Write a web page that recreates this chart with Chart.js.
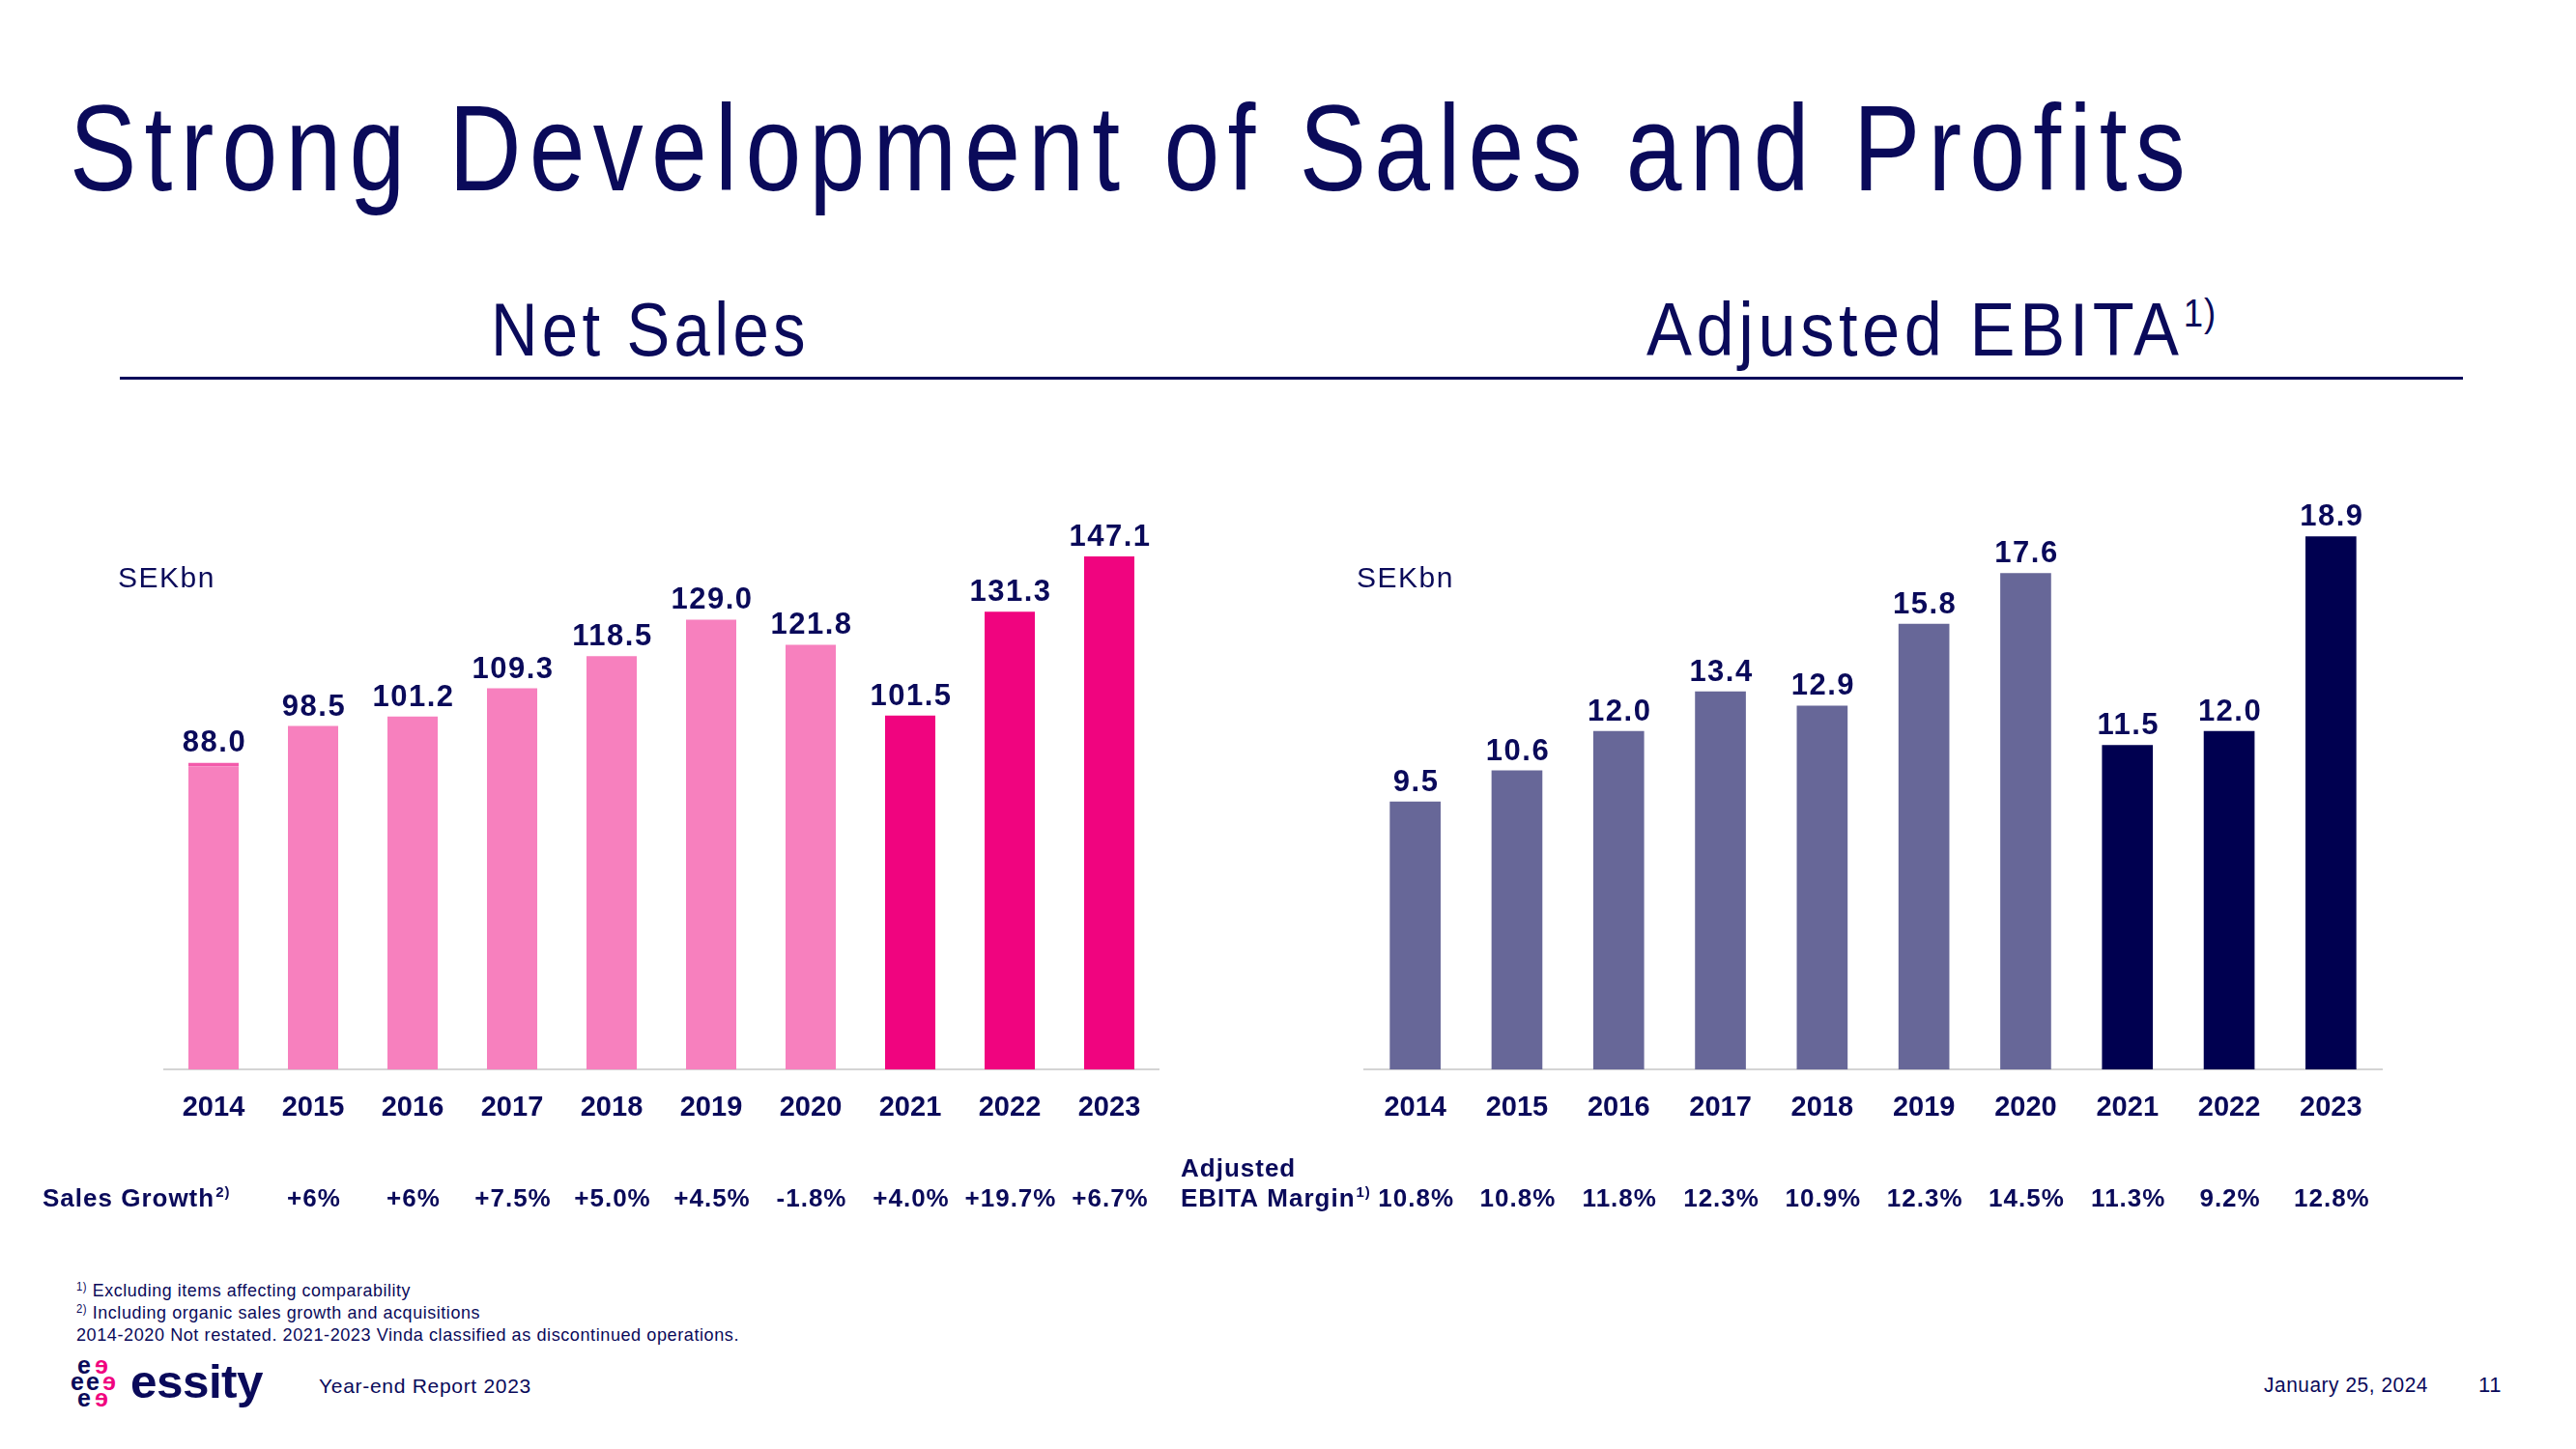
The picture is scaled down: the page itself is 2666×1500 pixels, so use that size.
<!DOCTYPE html>
<html>
<head>
<meta charset="utf-8">
<script src="https://cdn.jsdelivr.net/npm/chart.js@4.4.0/dist/chart.umd.min.js"></script>
<style>
body{margin:0;background:#fff;width:2666px;height:1500px;overflow:hidden;position:relative;font-family:"Liberation Sans",Arial,sans-serif;color:#0A0A5A}
.t{position:absolute;white-space:nowrap;line-height:1;transform-origin:0 0}
canvas{position:absolute}
.e{position:absolute;font-weight:bold;font-size:25px;line-height:1;color:#0A0A5A}
.e.p{color:#F0047F;transform:scaleX(-1)}
</style>
</head>
<body>
<div class="t" data-w="2198" style="left:72px;top:91px;font-size:126px;letter-spacing:10px;font-family:'Liberation Sans Narrow','Arial Narrow','Liberation Sans',sans-serif">Strong Development of Sales and Profits</div>
<div class="t" data-w="330" style="left:508px;top:303px;font-size:77px;letter-spacing:5px;font-family:'Liberation Sans Narrow','Arial Narrow','Liberation Sans',sans-serif">Net Sales</div>
<div class="t" data-w="590" style="left:1704px;top:303px;font-size:77px;letter-spacing:5px;font-family:'Liberation Sans Narrow','Arial Narrow','Liberation Sans',sans-serif">Adjusted EBITA<span style="font-size:40px;position:relative;top:-30px;letter-spacing:1px">1)</span></div>
<div style="position:absolute;left:124px;top:390px;width:2425px;height:3px;background:#0A0A5A"></div>

<canvas id="salesChart" width="1220" height="820" style="left:0;top:480px"></canvas>
<canvas id="ebitaChart" width="1466" height="820" style="left:1200px;top:480px"></canvas>

<div class="t" data-w="346" style="left:79px;top:1326px;font-size:19px;letter-spacing:0.6px"><span style="font-size:12px;position:relative;top:-6px">1)</span> Excluding items affecting comparability</div>
<div class="t" data-w="418" style="left:79px;top:1349px;font-size:19px;letter-spacing:0.6px"><span style="font-size:12px;position:relative;top:-6px">2)</span> Including organic sales growth and acquisitions</div>
<div class="t" data-w="686" style="left:79px;top:1372px;font-size:19px;letter-spacing:0.6px">2014-2020 Not restated. 2021-2023 Vinda classified as discontinued operations.</div>

<span class="e" style="left:80px;top:1401px">e</span><span class="e p" style="left:98px;top:1401px">e</span>
<span class="e" style="left:73px;top:1418px">e</span><span class="e" style="left:89px;top:1418px">e</span><span class="e p" style="left:106px;top:1418px">e</span>
<span class="e" style="left:80px;top:1435px">e</span><span class="e p" style="left:98px;top:1435px">e</span>
<div class="t" data-w="137" style="left:135px;top:1406px;font-size:49px;font-weight:bold;letter-spacing:-0.5px">essity</div>
<div class="t" data-w="220" style="left:330px;top:1424px;font-size:21px;letter-spacing:0.7px">Year-end Report 2023</div>
<div class="t" data-w="170" style="left:2343px;top:1423px;font-size:22px;letter-spacing:0.6px">January 25, 2024</div>
<div class="t" style="left:2565px;top:1423px;font-size:22px;letter-spacing:0.6px">11</div>

<script>
// data
var years = ['2014', '2015', '2016', '2017', '2018', '2019', '2020', '2021', '2022', '2023'];
var netSales = [88.0, 98.5, 101.2, 109.3, 118.5, 129.0, 121.8, 101.5, 131.3, 147.1];
var salesGrowth = [null, '+6%', '+6%', '+7.5%', '+5.0%', '+4.5%', '-1.8%', '+4.0%', '+19.7%', '+6.7%'];
var adjEbita = [9.5, 10.6, 12.0, 13.4, 12.9, 15.8, 17.6, 11.5, 12.0, 18.9];
var ebitaMargin = ['10.8%', '10.8%', '11.8%', '12.3%', '10.9%', '12.3%', '14.5%', '11.3%', '9.2%', '12.8%'];

var NAVY = '#0A0A5A';
var FONT = '"Liberation Sans", Arial, sans-serif';

// stretch html texts to the widths of the slide
document.querySelectorAll('[data-w]').forEach(function (el) {
  var w = el.getBoundingClientRect().width;
  el.style.transform = 'scaleX(' + (el.dataset.w / w) + ')';
});

var slideText = {
  id: 'slideText',
  afterDraw: function (chart, args, o) {
    var ctx = chart.ctx, x = chart.scales.x, y = chart.scales.y;
    var vals = chart.data.datasets[0].data;
    ctx.save();
    ctx.fillStyle = NAVY;
    ctx.textBaseline = 'alphabetic';

    ctx.font = 'bold 31px ' + FONT;
    ctx.letterSpacing = '1.5px';
    ctx.textAlign = 'center';
    vals.forEach(function (v, i) {
      ctx.fillText(v.toFixed(1), x.getPixelForValue(i) + 1, y.getPixelForValue(v) - 11);
    });

    ctx.font = 'bold 26px ' + FONT;
    ctx.letterSpacing = '1px';
    o.row.forEach(function (s, i) {
      if (s) ctx.fillText(s, x.getPixelForValue(i) + 1, o.rowY);
    });

    ctx.textAlign = 'left';
    o.rowTitle.forEach(function (t) {
      ctx.font = 'bold 26px ' + FONT;
      ctx.letterSpacing = '1px';
      ctx.fillText(t.text, t.x, t.y);
      if (t.sup) {
        var w = ctx.measureText(t.text).width;
        ctx.font = 'bold 15px ' + FONT;
        ctx.fillText(t.sup, t.x + w + 1, t.y - 10);
      }
    });

    ctx.font = '30px ' + FONT;
    ctx.letterSpacing = '1.5px';
    ctx.fillText('SEKbn', o.unitX, o.unitY);
    ctx.restore();
  }
};

function barChart(id, values, colors, max, padL, padR, barPct, text) {
  return new Chart(document.getElementById(id), {
    type: 'bar',
    data: {
      labels: years,
      datasets: [{
        data: values,
        backgroundColor: colors,
        borderColor: '#F35AAB',
        borderWidth: function (c) { return (id == 'salesChart' && c.dataIndex == 0) ? {top: 4, left: 0, right: 0, bottom: 0} : 0; },
        borderSkipped: 'bottom',
        barPercentage: barPct,
        categoryPercentage: 1
      }]
    },
    options: {
      responsive: false,
      animation: false,
      events: [],
      layout: {padding: {left: padL, right: padR, top: 60, bottom: 114}},
      plugins: {legend: {display: false}, tooltip: {enabled: false}, slideText: text},
      scales: {
        x: {
          grid: {display: false, drawTicks: false},
          border: {display: true, color: '#D4D4D4', width: 2},
          ticks: {color: NAVY, padding: 22, font: {family: FONT, size: 29, weight: 'bold'}}
        },
        y: {display: false, min: 0, max: max}
      }
    },
    plugins: [slideText]
  });
}

var pinkLight = '#F780BE', pinkDark = '#F0047F';
var purple = '#676798', navyBar = '#000050';

barChart('salesChart', netSales,
  netSales.map(function (v, i) { return i < 7 ? pinkLight : pinkDark; }),
  157.1, 169.5, 20.5, 0.505,
  {row: salesGrowth, rowY: 769, unitX: 122, unitY: 128,
   rowTitle: [{text: 'Sales Growth', sup: '2)', x: 44, y: 769}]});

barChart('ebitaChart', adjEbita,
  adjEbita.map(function (v, i) { return i < 7 ? purple : navyBar; }),
  19.42, 212, 201, 0.5,
  {row: ebitaMargin, rowY: 769, unitX: 204, unitY: 128,
   rowTitle: [{text: 'Adjusted', x: 22, y: 738}, {text: 'EBITA Margin', sup: '1)', x: 22, y: 769}]});
</script>
</body>
</html>
